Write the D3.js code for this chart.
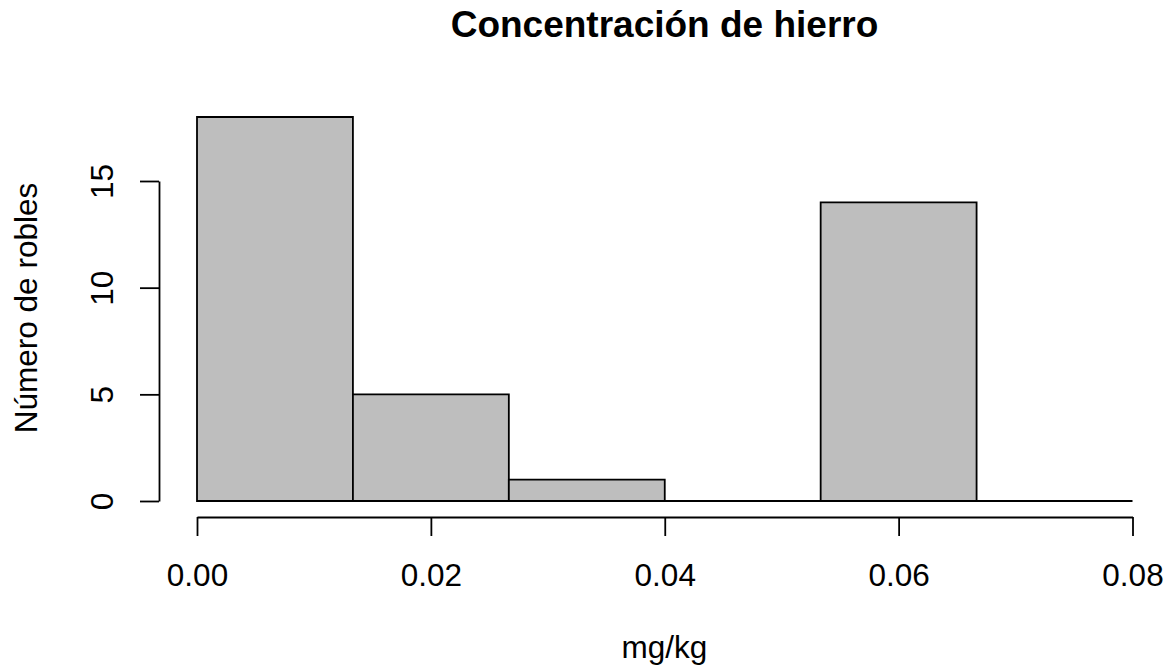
<!DOCTYPE html>
<html lang="es">
<head>
   <meta charset="utf-8">
   <title>Concentración de hierro</title>
   <script src="https://d3js.org/d3.v7.min.js"></script>
   <style>
      body { margin: 0; background: #fff; }
      svg { font-family: "Liberation Sans", Arial, Helvetica, sans-serif; }
   </style>
</head>
<body>
<svg id="chart" width="1168" height="671"></svg>
<script>
   // histogram bins (mg/kg) and counts
   var binStarts = [0, 0.013333, 0.026667, 0.04, 0.053333, 0.066667];
   var binEnds   = [0.013333, 0.026667, 0.04, 0.053333, 0.066667, 0.08];
   var counts    = [18, 5, 1, 0, 14, 0];

   var xTicks = [0, 0.02, 0.04, 0.06, 0.08];
   var xTickLabels = ["0.00", "0.02", "0.04", "0.06", "0.08"];
   var yTicks = [0, 5, 10, 15];

   var lineW = 1.8;
   var fontSize = "31.5px";

   var svg = d3.select("#chart");

   var x = d3.scaleLinear().domain([0, 0.08]).range([197, 1132.5]);
   var y = d3.scaleLinear().domain([0, 15]).range([501, 181]);

   // bars (drawn as paths so empty bins still show a base line)
   svg.append("g")
      .selectAll("path")
      .data(counts)
      .enter()
      .append("path")
      .attr("d", function(d, i) {
         var x0 = x(binStarts[i]), x1 = x(binEnds[i]), y0 = y(0), y1 = y(d);
         return "M" + x0 + "," + y0 + "V" + y1 + "H" + x1 + "V" + y0 + "Z";
      })
      .attr("fill", "#bebebe")
      .attr("stroke", "#000")
      .attr("stroke-width", lineW);

   // x axis
   var xAxis = svg.append("g")
      .attr("transform", "translate(0,517)")
      .call(d3.axisBottom(x)
         .tickValues(xTicks)
         .tickFormat(function(d, i) { return xTickLabels[i]; })
         .tickSize(19)
         .tickSizeOuter(0)
         .tickPadding(0));
   xAxis.select(".domain").attr("stroke-width", lineW);
   xAxis.selectAll(".tick line").attr("stroke-width", lineW);
   xAxis.selectAll(".tick text")
      .attr("font-size", fontSize)
      .attr("fill", "#000")
      .attr("dy", null)
      .attr("y", 69);

   // y axis
   var yAxis = svg.append("g")
      .attr("transform", "translate(159,0)")
      .call(d3.axisLeft(y)
         .tickValues(yTicks)
         .tickSize(19)
         .tickSizeOuter(0));
   yAxis.select(".domain").attr("stroke-width", lineW);
   yAxis.selectAll(".tick line").attr("stroke-width", lineW);
   yAxis.selectAll(".tick text")
      .attr("font-size", fontSize)
      .attr("fill", "#000")
      .attr("x", null)
      .attr("dy", null)
      .attr("text-anchor", "middle")
      .attr("transform", "translate(-46,0) rotate(-90)");

   // titles
   svg.append("text")
      .attr("x", 664.5)
      .attr("y", 37)
      .attr("text-anchor", "middle")
      .attr("font-size", "37px")
      .attr("font-weight", "bold")
      .text("Concentración de hierro");

   svg.append("text")
      .attr("x", 664.5)
      .attr("y", 658)
      .attr("text-anchor", "middle")
      .attr("font-size", fontSize)
      .text("mg/kg");

   svg.append("text")
      .attr("transform", "translate(37,308) rotate(-90)")
      .attr("text-anchor", "middle")
      .attr("font-size", fontSize)
      .text("Número de robles");
</script>
</body>
</html>
